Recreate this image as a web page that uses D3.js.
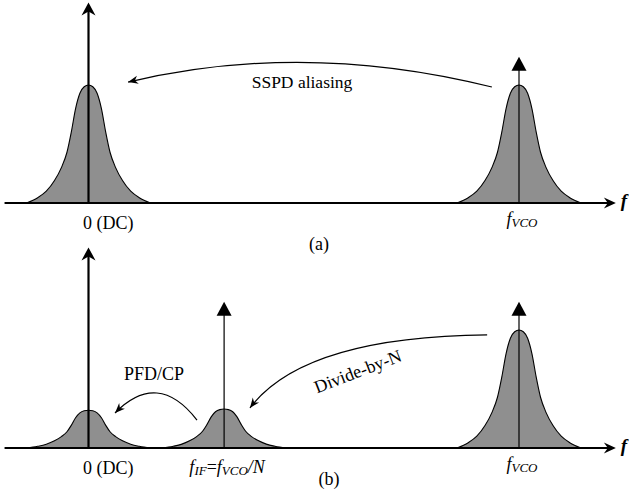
<!DOCTYPE html>
<html><head><meta charset="utf-8">
<script src="https://cdn.jsdelivr.net/npm/d3@7"></script>
<style>
body{margin:0;background:#fff}
svg{display:block}
</style>
</head><body>
<svg id="chart" width="629" height="497"></svg>
<script>
// ---- data (frequency units: f_VCO = 10, heights relative to a full peak) ----
const panels = ["(a)", "(b)"];
const panelAPeakFreq = [0, 10];
const panelAPeakAmp  = [1.0, 1.0];
const panelBPeakFreq = [0, 3.15, 10];
const panelBPeakAmp  = [0.32, 0.33, 1.0];
const panelACarrierFreq = [10];
const panelBCarrierFreq = [3.15, 10];
const carrierHeight = 1.24;
const dcAxisHeight = 1.70;
const freqAxisRange = [-1.95, 12.25];
// noise skirt profile (offset from centre, relative height)
const profileOffset = [-1.44,-1.18,-0.98,-0.79,-0.63,-0.5,-0.4,-0.3,-0.2,-0.1,0,0.1,0.2,0.3,0.4,0.5,0.63,0.79,0.98,1.18,1.44];
const profileHeight = [0,0.045,0.10,0.19,0.30,0.43,0.60,0.80,0.93,0.985,1,0.985,0.93,0.80,0.60,0.43,0.30,0.19,0.10,0.045,0];
// labels
const panelALabels = [{freq:0, kind:"dc"}, {freq:10, kind:"vco"}];
const panelBLabels = [{freq:0, kind:"dc"}, {freq:3.15, kind:"if"}, {freq:10, kind:"vco"}];
// annotation arrows (data units: freq, relative height)
const arrowA = {pts:[[9.37,0.983],[5.01,1.38],[0.92,1.025]], text:"SSPD aliasing"};
const arrowPFD = {pts:[[2.52,0.237],[1.61,0.665],[0.616,0.297]], text:"PFD/CP"};
const arrowDiv = {pts:[[9.26,0.958],[6.77,0.949],[4.68,0.788],[3.75,0.339]], text:"Divide-by-N"};

// ---- layout ----
const FONT = "'Liberation Serif', 'Times New Roman', Times, serif";
const svg = d3.select("#chart").attr("font-family", FONT);
const x = d3.scaleLinear().domain([0, 10]).range([88.5, 519]);
const baseA = 203, baseB = 448, fullH = 118;
const yA = d3.scaleLinear().domain([0, 1]).range([baseA, baseA - fullH]);
const yB = d3.scaleLinear().domain([0, 1]).range([baseB, baseB - fullH]);
const FILL = "#8f8f8f";

function stealth(g, tx, ty, ang, L, W, N) {
  const dx = Math.cos(ang), dy = Math.sin(ang), nx = -dy, ny = dx;
  const p = [
    [tx, ty],
    [tx - L*dx + W*nx, ty - L*dy + W*ny],
    [tx - N*dx, ty - N*dy],
    [tx - L*dx - W*nx, ty - L*dy - W*ny]
  ];
  g.append("path").attr("d", "M" + p.map(q => q.join(",")).join("L") + "Z").attr("fill", "#000");
}
function txt(g) { return g.append("text").attr("font-family", FONT).attr("fill", "#000"); }

function drawPanel(y, base, peakFreq, peakAmp, carrierFreq) {
  const g = svg.append("g");
  const area = d3.area().curve(d3.curveMonotoneX)
    .x(d => x(d[0])).y0(base).y1(d => y(d[1]));
  const line = d3.line().curve(d3.curveMonotoneX).x(d => x(d[0])).y(d => y(d[1]));
  peakFreq.forEach((f, i) => {
    const pts = profileOffset.map((o, k) => [f + o, profileHeight[k] * peakAmp[i]]);
    g.append("path").attr("d", area(pts)).attr("fill", FILL);
    g.append("path").attr("d", line(pts)).attr("fill", "none").attr("stroke", "#000").attr("stroke-width", 1.1);
  });
  carrierFreq.forEach(f => {
    const tip = y(carrierHeight);
    g.append("line").attr("x1", x(f)).attr("x2", x(f)).attr("y1", base).attr("y2", tip + 8)
      .attr("stroke", "#000").attr("stroke-width", 1.2);
    g.append("path").attr("d", `M${x(f)},${tip}L${x(f)+7.5},${tip+14}L${x(f)-7.5},${tip+14}Z`).attr("fill", "#000");
  });
  const x0 = x(freqAxisRange[0]), x1 = x(freqAxisRange[1]);
  g.append("line").attr("x1", x0).attr("x2", x1 - 6).attr("y1", base).attr("y2", base)
    .attr("stroke", "#000").attr("stroke-width", 2);
  stealth(g, x1, base, 0, 12, 5.5, 8);
  txt(g).attr("x", x1 + 5).attr("y", base + 4)
    .attr("font-size", 19).attr("font-style", "italic").attr("font-weight", "bold").text("f");
  const top = y(dcAxisHeight);
  g.append("line").attr("x1", x(0)).attr("x2", x(0)).attr("y1", base).attr("y2", top + 8)
    .attr("stroke", "#000").attr("stroke-width", 2.2);
  stealth(g, x(0), top, -Math.PI/2, 13, 7, 9);
  return g;
}

const gA = drawPanel(yA, baseA, panelAPeakFreq, panelAPeakAmp, panelACarrierFreq);
const gB = drawPanel(yB, baseB, panelBPeakFreq, panelBPeakAmp, panelBCarrierFreq);

function fLabel(g, lx, ly, parts) {
  const t = txt(g).attr("x", lx).attr("y", ly).attr("font-size", 18).attr("text-anchor", "middle");
  parts.forEach(p => {
    const s = t.append("tspan").text(p.t);
    if (p.it) s.attr("font-style", "italic");
    if (p.sub) s.attr("font-size", 13).attr("dy", 1.5);
    if (p.up) s.attr("dy", -1.5);
  });
}
function labels(g, base, list) {
  list.forEach(l => {
    if (l.kind === "dc") {
      txt(g).attr("x", x(l.freq) - 5.5).attr("y", base + 26).attr("font-size", 18).text("0 (DC)");
    } else if (l.kind === "vco") {
      fLabel(g, x(l.freq) + 3, base + 22, [{t:"f", it:1}, {t:"VCO", it:1, sub:1}]);
    } else {
      fLabel(g, x(l.freq) + 3, base + 25, [{t:"f", it:1}, {t:"IF", it:1, sub:1}, {t:"=", up:1},
        {t:"f", it:1}, {t:"VCO", it:1, sub:1}, {t:"/N", it:1, up:1}]);
    }
  });
}
labels(gA, baseA, panelALabels);
labels(gB, baseB, panelBLabels);

txt(svg).attr("x", 319).attr("y", baseA + 47).attr("font-size", 18).attr("text-anchor", "middle").text(panels[0]);
txt(svg).attr("x", 329).attr("y", baseB + 37).attr("font-size", 18).attr("text-anchor", "middle").text(panels[1]);

function curvedArrow(y, a) {
  const p = a.pts.map(d => [x(d[0]), y(d[1])]);
  let d;
  if (p.length === 3) d = `M${p[0]}Q${p[1]} ${p[2]}`;
  else d = `M${p[0]}C${p[1]} ${p[2]} ${p[3]}`;
  svg.append("path").attr("d", d).attr("fill", "none").attr("stroke", "#000").attr("stroke-width", 1.2);
  const e = p[p.length - 1], c = p[p.length - 2];
  stealth(svg, e[0], e[1], Math.atan2(e[1] - c[1], e[0] - c[0]), 10, 4, 7);
}
curvedArrow(yA, arrowA);
curvedArrow(yB, arrowPFD);
curvedArrow(yB, arrowDiv);

txt(svg).attr("x", 302).attr("y", 88).attr("font-size", 17.5).attr("text-anchor", "middle").text(arrowA.text);
txt(svg).attr("x", 154).attr("y", 380).attr("font-size", 18).attr("text-anchor", "middle").text(arrowPFD.text);
txt(svg).attr("transform", "translate(360,377) rotate(-21)").attr("font-size", 18).attr("text-anchor", "middle").text(arrowDiv.text);
</script>
</body></html>
